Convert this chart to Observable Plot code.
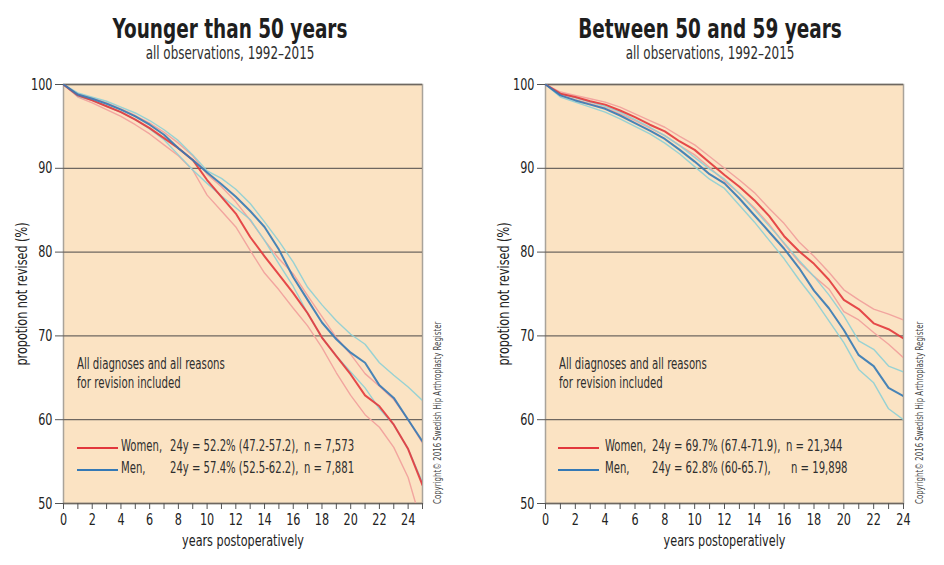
<!DOCTYPE html>
<html><head><meta charset="utf-8">
<script src="https://cdn.jsdelivr.net/npm/d3@7"></script>
<script src="https://cdn.jsdelivr.net/npm/@observablehq/plot@0.6"></script>
<style>
body{margin:0;background:#fff;}
#wrap{position:relative;width:944px;height:565px;overflow:hidden;font-family:"DejaVu Sans Condensed","DejaVu Sans",sans-serif;font-stretch:condensed;color:#2a2a2a;}
.abs{position:absolute;white-space:nowrap;}
.title{font-size:27px;font-weight:bold;text-align:center;line-height:30px;color:#1e1e1e;transform:scaleX(0.76);transform-origin:center;}
.sub{font-size:17px;text-align:center;line-height:20px;color:#2e2e2e;transform:scaleX(0.78);transform-origin:center;}
.note{font-size:15.5px;line-height:19px;color:#2e2e2e;transform:scaleX(0.73);transform-origin:left top;}
.leg{font-size:16px;line-height:20px;color:#2e2e2e;transform:scaleX(0.70);transform-origin:left top;}
.sw{height:0;border-top:2px solid;}
.copy{font-size:10.5px;line-height:12px;color:#444;transform-origin:0 0;transform:rotate(-90deg) scaleX(0.74);}
</style></head>
<body><div id="wrap"></div>
<script>
// ---------- data ----------
const yearsLeft = [0,1,2,3,4,5,6,7,8,9,10,11,12,13,14,15,16,17,18,19,20,21,22,23,24,25];
const yearsRight = [0,1,2,3,4,5,6,7,8,9,10,11,12,13,14,15,16,17,18,19,20,21,22,23,24];
const yTicks = [50,60,70,80,90,100];

// Younger than 50 years
const leftWomen   = [100,98.7,98.1,97.4,96.7,95.8,94.8,93.6,92.4,91.0,88.6,86.6,84.6,81.8,79.5,77.3,75.1,72.7,69.8,67.6,65.4,62.9,61.6,59.4,56.5,52.2];
const leftWomenLo = [100,98.5,97.8,97.0,96.2,95.2,94.1,92.8,91.5,89.8,86.8,84.9,83.0,80.2,77.5,75.5,73.3,71.2,68.6,65.6,62.9,60.6,59.1,56.7,53.1,47.2];
const leftWomenHi = [100,98.9,98.4,97.8,97.1,96.3,95.4,94.3,93.0,91.5,89.3,87.8,86.0,83.8,81.4,79.2,77.4,74.8,72.3,69.8,67.8,65.5,64.0,62.4,60.0,57.2];
const leftMen     = [100,98.8,98.3,97.7,97.0,96.2,95.2,94.0,92.4,91.0,89.5,88.1,86.6,84.9,83.0,80.3,77.0,74.3,71.6,69.6,68.0,66.8,64.1,62.6,60.0,57.4];
const leftMenLo   = [100,98.6,98.1,97.4,96.7,95.8,94.7,93.4,91.6,89.8,88.2,86.7,85.3,83.9,81.4,78.6,75.9,72.7,69.8,67.6,65.7,63.8,61.3,59.4,56.5,52.5];
const leftMenHi   = [100,99.0,98.5,98.0,97.3,96.6,95.7,94.6,93.3,91.6,89.7,88.8,87.5,85.8,83.6,81.3,78.8,75.8,73.7,71.8,70.2,69.0,66.8,65.3,63.9,62.3];

// Between 50 and 59 years
const rightWomen   = [100,98.9,98.5,98.0,97.6,96.9,96.1,95.2,94.4,93.2,92.2,90.7,89.2,87.8,86.2,84.3,81.9,80.1,78.6,76.7,74.3,73.2,71.5,70.8,69.7];
const rightWomenLo = [100,98.7,98.2,97.7,97.2,96.5,95.7,94.8,93.9,92.7,91.6,90.1,88.5,87.0,85.3,83.3,81.0,78.8,77.1,75.6,72.9,71.9,70.4,69.0,67.4];
const rightWomenHi = [100,99.1,98.7,98.3,97.9,97.3,96.5,95.7,94.9,93.8,92.8,91.4,90.0,88.6,87.1,85.2,83.4,81.2,79.5,77.6,75.5,74.3,73.2,72.6,71.9];
const rightMen     = [100,98.7,98.1,97.6,97.1,96.3,95.4,94.5,93.5,92.2,90.8,89.3,88.2,86.4,84.4,82.4,80.4,78.1,75.4,73.3,70.7,67.7,66.4,63.8,62.8];
const rightMenLo   = [100,98.5,97.9,97.3,96.7,95.9,95.0,94.1,93.0,91.7,90.2,88.7,87.6,85.6,83.6,81.4,79.2,76.7,74.4,71.8,69.2,66.0,64.4,61.3,60.0];
const rightMenHi   = [100,98.9,98.4,97.9,97.4,96.7,95.8,94.9,93.9,92.7,91.3,89.9,88.7,87.0,85.1,83.1,81.1,79.0,77.1,74.9,72.4,69.4,68.4,66.4,65.7];

const titles = ["Younger than 50 years", "Between 50 and 59 years"];
const subtitle = "all observations, 1992\u20132015";
const noteLines = ["All diagnoses and all reasons", "for revision included"];
// legend rows: [label, statistic, count]
const legendLeft  = [["Women,", "24y = 52.2% (47.2-57.2),", "n = 7,573"], ["Men,", "24y = 57.4% (52.5-62.2),", "n = 7,881"]];
const legendRight = [["Women,", "24y = 69.7% (67.4-71.9),", "n = 21,344"], ["Men,", "24y = 62.8% (60-65.7),", "n = 19,898"]];
const copyright = "Copyright\u00A9 2016 Swedish Hip Arthroplasty Register";

// ---------- styling ----------
const C = {bg:"#fbe3c3", grid:"#6e6760", frame:"#a9a39a", women:"#e2373c", womenCI:"#f2a59f", men:"#3479b5", menCI:"#8ccfd5"};
const FONT = '"DejaVu Sans Condensed","DejaVu Sans",sans-serif';

function series(xs, ys){ return xs.map((x,i)=>({x, y: ys[i]})); }

function panel(xs, W, WLo, WHi, M, MLo, MHi, xmax, width, ml, mr){
  return Plot.plot({
    width, height: 505, marginTop: 24, marginBottom: 62, marginLeft: ml, marginRight: mr,
    x: {domain: [0, xmax]},
    y: {domain: [50, 100]},
    style: {fontFamily: FONT, fontSize: "16px", color: "#222", background: "transparent", overflow: "visible"},
    marks: [
      Plot.frame({fill: C.bg, stroke: C.frame, strokeWidth: 1.5}),
      Plot.gridY(yTicks, {stroke: C.grid, strokeOpacity: 1, strokeWidth: 1.3}),
      Plot.line(series(xs, WLo), {x:"x", y:"y", stroke: C.womenCI, strokeWidth: 1.4, clip: true}),
      Plot.line(series(xs, WHi), {x:"x", y:"y", stroke: C.womenCI, strokeWidth: 1.4, clip: true}),
      Plot.line(series(xs, MLo), {x:"x", y:"y", stroke: C.menCI, strokeWidth: 1.4, strokeOpacity: 0.9, clip: true}),
      Plot.line(series(xs, MHi), {x:"x", y:"y", stroke: C.menCI, strokeWidth: 1.4, strokeOpacity: 0.9, clip: true}),
      Plot.line(series(xs, W), {x:"x", y:"y", stroke: C.women, strokeWidth: 2, strokeOpacity: 0.9, clip: true}),
      Plot.line(series(xs, M), {x:"x", y:"y", stroke: C.men, strokeWidth: 2, strokeOpacity: 0.9, clip: true}),
      Plot.axisY(yTicks, {tickSize: 8, tickPadding: 3, stroke: "#555", fontSize: 16,
        label: "propotion not revised (%)", labelAnchor: "center", labelArrow: false, labelOffset: 48}),
      Plot.axisX(d3.range(0, xmax + 1), {tickSize: 6, tickPadding: 4, stroke: "#555", fontSize: 16,
        tickFormat: d => (d % 2 === 0 && d <= 24) ? d : "",
        label: "years postoperatively", labelAnchor: "center", labelArrow: false, labelOffset: 42})
    ]
  });
}

// narrow the SVG texts to mimic the condensed face of the original
function condense(svg, k){
  svg.querySelectorAll("text").forEach(t => {
    const tr = t.getAttribute("transform");
    if (tr) t.setAttribute("transform", tr + ` scale(${k},1)`);
    else {
      const x = +(t.getAttribute("x") || 0), y = +(t.getAttribute("y") || 0);
      t.setAttribute("transform", `translate(${x},${y}) scale(${k},1) translate(${-x},${-y})`);
    }
  });
}

const wrap = document.getElementById("wrap");
function add(html, cls, style){ const d = document.createElement("div"); d.className = "abs " + cls; Object.assign(d.style, style); d.innerHTML = html; wrap.appendChild(d); return d; }

const pL = panel(yearsLeft, leftWomen, leftWomenLo, leftWomenHi, leftMen, leftMenLo, leftMenHi, 25, 470, 63, 48);
pL.style.position = "absolute"; pL.style.left = "0px"; pL.style.top = "60px";
condense(pL, 0.78);
wrap.appendChild(pL);
const pR = panel(yearsRight, rightWomen, rightWomenLo, rightWomenHi, rightMen, rightMenLo, rightMenHi, 24, 474, 75, 41);
pR.style.position = "absolute"; pR.style.left = "470px"; pR.style.top = "60px";
condense(pR, 0.78);
wrap.appendChild(pR);

// titles
add(titles[0], "title", {left:"0px", width:"460px", top:"14px"});
add(subtitle, "sub", {left:"0px", width:"460px", top:"43px"});
add(titles[1], "title", {left:"480px", width:"460px", top:"14px"});
add(subtitle, "sub", {left:"480px", width:"460px", top:"43px"});

// notes
add(noteLines.join("<br>"), "note", {left:"77px", top:"355px"});
add(noteLines.join("<br>"), "note", {left:"559px", top:"355px"});

// legends
function legend(rows, sx, lx, stx, nxs){
  rows.forEach((r, i) => {
    const cy = 447 + i * 22;
    add("", "sw", {left: sx + "px", top: cy + "px", width: "41px", borderColor: i === 0 ? C.women : C.men});
    add(r[0], "leg", {left: lx + "px", top: (cy - 11) + "px"});
    add(r[1], "leg", {left: stx + "px", top: (cy - 11) + "px"});
    add(r[2], "leg", {left: nxs[i] + "px", top: (cy - 11) + "px"});
  });
}
legend(legendLeft, 77, 121, 170, [304, 304]);
legend(legendRight, 558, 605, 652, [786, 791]);

// copyright (rotated)
add(copyright, "copy", {left:"431px", top:"504px"});
add(copyright, "copy", {left:"913px", top:"504px"});
</script>
</body></html>
